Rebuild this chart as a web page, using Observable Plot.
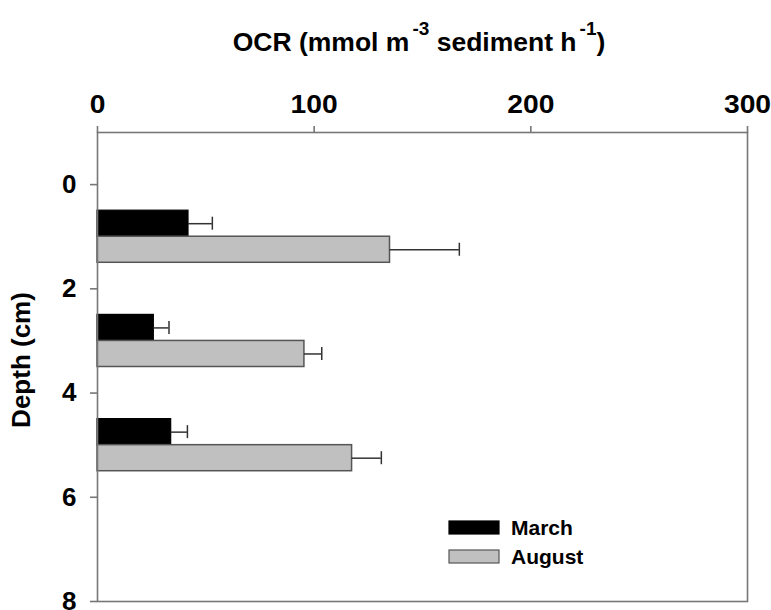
<!DOCTYPE html>
<html>
<head>
<meta charset="utf-8">
<script src="https://cdn.jsdelivr.net/npm/d3@7"></script>
<script src="https://cdn.jsdelivr.net/npm/@observablehq/plot@0.6"></script>
<style>
  body { margin: 0; background: #fff; overflow: hidden; }
  svg { display: block; }
</style>
</head>
<body>
<div id="chart"></div>
<script>
// Oxygen consumption rate by sediment depth layer, two sampling months
const depthCenters = [1, 3, 5];          // cm, middle of each 2-cm layer
const marchOCR = [42, 26, 34];
const marchSE = [11, 7, 7.5];
const augustOCR = [135, 95.5, 117.5];
const augustSE = [32, 8, 13.5];
const xTicks = [0, 100, 200, 300];
const yTicks = [0, 2, 4, 6, 8];
const seasons = ["March", "August"];
const seasonFill = ["#000000", "#c0c0c0"];
const seasonStroke = ["#000000", "#555555"];

// March bar fills the upper half of each layer, August the lower half
const rows = [];
depthCenters.forEach((d, i) => {
  rows.push({season: "March", y1: d - 0.5, y2: d, ocr: marchOCR[i], se: marchSE[i]});
  rows.push({season: "August", y1: d, y2: d + 0.5, ocr: augustOCR[i], se: augustSE[i]});
});
rows.forEach(r => { r.mid = (r.y1 + r.y2) / 2; r.end = r.ocr + r.se; });
const march = rows.filter(r => r.season === "March");
const august = rows.filter(r => r.season === "August");

const axisGrey = "#777";

const chart = Plot.plot({
  width: 771,
  height: 610,
  marginTop: 132,
  marginLeft: 97,
  marginRight: 24,
  marginBottom: 9,
  style: {
    fontFamily: "'Liberation Sans', Arial, sans-serif",
    fontWeight: "bold",
    fontSize: "25px",
    background: "white",
    color: "black",
    overflow: "visible"
  },
  x: {domain: [0, 300]},
  y: {domain: [-1, 8], reverse: true},
  marks: [
    Plot.rectX(march, {x1: 0, x2: "ocr", y1: "y1", y2: "y2",
      fill: seasonFill[0], stroke: seasonStroke[0], strokeWidth: 1.2}),
    Plot.rectX(august, {x1: 0, x2: "ocr", y1: "y1", y2: "y2",
      fill: seasonFill[1], stroke: seasonStroke[1], strokeWidth: 1.5}),
    // error bars: whisker to the right plus end cap
    Plot.ruleY(rows, {y: "mid", x1: "ocr", x2: "end", stroke: "#333", strokeWidth: 1.5}),
    Plot.ruleX(rows, {x: "end", y1: r => r.mid - 0.125, y2: r => r.mid + 0.125,
      stroke: "#333", strokeWidth: 1.5}),
    Plot.frame({stroke: axisGrey, strokeWidth: 1.6}),
    Plot.axisX({anchor: "top", ticks: xTicks, tickSize: 7, tickPadding: 13,
      stroke: axisGrey, strokeWidth: 1.6, fill: "black", fontSize: 25, label: null}),
    Plot.axisY({anchor: "left", ticks: yTicks, tickSize: 7, tickPadding: 14,
      stroke: axisGrey, strokeWidth: 1.6, fill: "black", fontSize: 26, label: null})
  ]
});

document.getElementById("chart").appendChild(chart);

const svg = d3.select(chart);

// widen the top tick numerals slightly, keeping each centred on its tick
svg.selectAll('g[aria-label="x-axis tick label"] text').each(function () {
  const t = this.getAttribute("transform") || "";
  const m = /translate\(([-\d.]+),\s*([-\d.]+)\)/.exec(t);
  if (m) this.setAttribute("transform", `translate(${m[1]},${m[2]}) scale(1.13,1.05)`);
});

// x-axis title with superscript units
const title = svg.append("text")
  .attr("x", 419)
  .attr("y", 51)
  .attr("text-anchor", "middle")
  .attr("font-size", 26.5)
  .attr("font-weight", "bold")
  .attr("fill", "black");
title.append("tspan").text("OCR (mmol m");
title.append("tspan").attr("dx", 3).attr("dy", -16).attr("font-size", 19).text("-3");
title.append("tspan").attr("dy", 16).text(" sediment h");
title.append("tspan").attr("dx", 3).attr("dy", -16).attr("font-size", 19).text("-1");
title.append("tspan").attr("dy", 16).text(")");

// y-axis title
svg.append("text")
  .attr("transform", "translate(30,360) rotate(-90)")
  .attr("text-anchor", "middle")
  .attr("font-size", 26)
  .attr("font-weight", "bold")
  .attr("fill", "black")
  .text("Depth (cm)");

// legend
const legend = svg.append("g")
  .attr("font-size", 21)
  .attr("font-weight", "bold")
  .attr("text-anchor", "start");
seasons.forEach((s, i) => {
  const y = 521 + i * 29;
  legend.append("rect")
    .attr("x", 449).attr("y", y).attr("width", 50).attr("height", 13)
    .attr("fill", seasonFill[i]).attr("stroke", seasonStroke[i]).attr("stroke-width", 1.2);
  legend.append("text")
    .attr("x", 511).attr("y", y + 14)
    .attr("fill", "black")
    .text(s);
});
</script>
</body>
</html>
